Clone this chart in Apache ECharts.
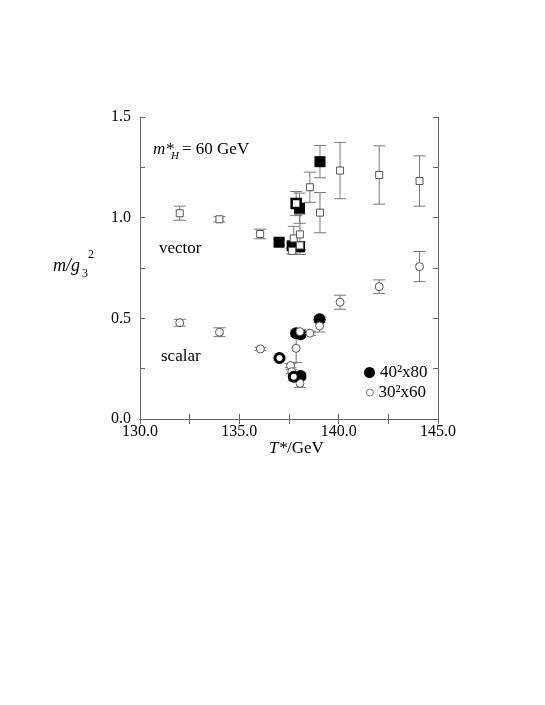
<!DOCTYPE html>
<html>
<head>
<meta charset="utf-8">
<script src="https://cdn.jsdelivr.net/npm/echarts@6/dist/echarts.min.js"></script>
<style>
  html, body { margin: 0; padding: 0; background: #fff; }
  #main { width: 545px; height: 705px; }
</style>
</head>
<body>
<div id="main"></div>
<script>
// axis ticks
var xTicks = [130, 135, 140, 145];
var yTicks = [0, 0.5, 1.0, 1.5];

// vector channel, 40^2x80 (filled squares)
var vecT40 = [137.0, 137.66, 138.03, 138.03, 139.06];
var vecM40 = [0.878, 0.860, 0.855, 1.047, 1.278];
var vecE40 = [0.015, 0.015, 0.015, 0.075, 0.080];

// vector channel, 30^2x60 (open squares)
var vecT30 = [132.0, 134.0, 136.05, 137.66, 137.74, 138.05, 138.05, 138.55, 139.06, 140.07, 142.04, 144.07];
var vecM30 = [1.022, 0.992, 0.919, 0.835, 0.897, 0.917, 0.862, 1.151, 1.025, 1.234, 1.212, 1.182];
var vecE30 = [0.035, 0.013, 0.024, 0.015, 0.060, 0.100, 0.020, 0.075, 0.100, 0.140, 0.145, 0.125];

// vector channel, bold open square
var vecTB = [137.86];
var vecMB = [1.070];
var vecEB = [0.060];

// scalar channel, 40^2x80 (filled circles)
var scaT40 = [137.86, 138.08, 138.08, 139.04];
var scaM40 = [0.426, 0.421, 0.214, 0.495];
var scaE40 = [0.015, 0.015, 0.015, 0.015];

// scalar channel, 30^2x60 (open circles)
var scaT30 = [132.0, 134.0, 136.06, 137.58, 137.64, 137.86, 138.05, 138.05, 138.55, 139.04, 140.07, 142.04, 144.07];
var scaM30 = [0.478, 0.431, 0.348, 0.265, 0.235, 0.351, 0.434, 0.177, 0.426, 0.462, 0.580, 0.657, 0.757];
var scaE30 = [0.017, 0.022, 0.008, 0.010, 0.010, 0.070, 0.010, 0.020, 0.010, 0.030, 0.035, 0.034, 0.075];

// scalar channel, bold open circles
var scaTB = [137.02, 137.74];
var scaMB = [0.303, 0.210];
var scaEB = [0.010, 0.020];

function pts(t, m) {
    return t.map(function (v, i) { return [v, m[i]]; });
}
function errs(t, m, e) {
    return t.map(function (v, i) { return [v, m[i], e[i]]; });
}

var allErr = [].concat(
    errs(vecT40, vecM40, vecE40), errs(vecT30, vecM30, vecE30), errs(vecTB, vecMB, vecEB),
    errs(scaT40, scaM40, scaE40), errs(scaT30, scaM30, scaE30), errs(scaTB, scaMB, scaEB)
);

var serif = 'Liberation Serif';
var axisCol = '#666';
var barCol = '#777';

function fmtX(v) {
    return xTicks.indexOf(v) >= 0 ? v.toFixed(1) : '';
}
function fmtY(v) {
    for (var i = 0; i < yTicks.length; i++) {
        if (Math.abs(yTicks[i] - v) < 1e-6) return yTicks[i].toFixed(1);
    }
    return '';
}

var chart = echarts.init(document.getElementById('main'));

var legendText = { fontFamily: serif, fontSize: 17, color: '#000' };

var option = {
    animation: false,
    backgroundColor: '#fff',
    grid: { left: 140, top: 117, right: 107, bottom: 286 },
    legend: [{
        left: 359,
        top: 359,
        itemWidth: 11,
        itemHeight: 11,
        itemGap: 4,
        textStyle: legendText,
        data: [{ name: '40²x80', icon: 'circle' }]
    }, {
        left: 361,
        top: 379,
        itemWidth: 7,
        itemHeight: 7,
        itemGap: 4,
        textStyle: legendText,
        data: [{ name: '30²x60', icon: 'circle', itemStyle: { borderWidth: 0.8 } }]
    }],
    xAxis: [{
        type: 'value', min: 130, max: 145, interval: 2.5,
        axisLine: { lineStyle: { color: axisCol, width: 1 } },
        axisTick: { inside: true, length: 5, lineStyle: { color: axisCol } },
        axisLabel: { formatter: fmtX, fontFamily: serif, fontSize: 16, color: '#000', margin: 5 },
        splitLine: { show: false }
    }, {
        type: 'value', min: 130, max: 145, interval: 2.5, position: 'top',
        axisLine: { lineStyle: { color: axisCol, width: 1 } },
        axisTick: { inside: true, length: 5, lineStyle: { color: axisCol } },
        axisLabel: { show: false },
        splitLine: { show: false }
    }],
    yAxis: [{
        type: 'value', min: 0, max: 1.5, interval: 0.25,
        axisLine: { show: true, lineStyle: { color: axisCol, width: 1 } },
        axisTick: { show: true, inside: true, length: 5, lineStyle: { color: axisCol } },
        axisLabel: { formatter: fmtY, fontFamily: serif, fontSize: 16, color: '#000', margin: 9 },
        splitLine: { show: false }
    }, {
        type: 'value', min: 0, max: 1.5, interval: 0.25, position: 'right',
        axisLine: { show: true, lineStyle: { color: axisCol, width: 1 } },
        axisTick: { show: true, inside: true, length: 5, lineStyle: { color: axisCol } },
        axisLabel: { show: false },
        splitLine: { show: false }
    }],
    series: [
        {
            name: 'errors',
            type: 'custom',
            z: 1,
            silent: true,
            data: allErr,
            encode: { x: 0, y: 1 },
            renderItem: function (params, api) {
                var x = api.value(0), y = api.value(1), e = api.value(2);
                var top = api.coord([x, y + e]);
                var bot = api.coord([x, y - e]);
                var hw = 6;
                var st = { stroke: barCol, lineWidth: 1 };
                return {
                    type: 'group',
                    children: [
                        { type: 'line', shape: { x1: top[0], y1: top[1], x2: bot[0], y2: bot[1] }, style: st },
                        { type: 'line', shape: { x1: top[0] - hw, y1: top[1], x2: top[0] + hw, y2: top[1] }, style: st },
                        { type: 'line', shape: { x1: bot[0] - hw, y1: bot[1], x2: bot[0] + hw, y2: bot[1] }, style: st }
                    ]
                };
            }
        },
        {
            name: '40²x80', type: 'scatter', z: 2,
            symbol: 'rect', symbolSize: 11,
            itemStyle: { color: '#000', opacity: 1 },
            data: pts(vecT40, vecM40)
        },
        {
            name: '40²x80', type: 'scatter', z: 2,
            symbol: 'circle', symbolSize: 12,
            itemStyle: { color: '#000', opacity: 1 },
            data: pts(scaT40, scaM40)
        },
        {
            name: '30²x60', type: 'scatter', z: 3,
            symbol: 'circle', symbolSize: 8,
            itemStyle: { color: '#fff', borderColor: '#555', borderWidth: 1, opacity: 1 },
            data: pts(scaT30, scaM30)
        },
        {
            name: '30²x60', type: 'scatter', z: 3,
            symbol: 'rect', symbolSize: 7,
            itemStyle: { color: '#fff', borderColor: '#555', borderWidth: 1, opacity: 1 },
            data: pts(vecT30, vecM30)
        },
        {
            name: 'bold', type: 'scatter', z: 4,
            symbol: 'rect', symbolSize: 9,
            itemStyle: { color: '#fff', borderColor: '#000', borderWidth: 2.5, opacity: 1 },
            data: pts(vecTB, vecMB)
        },
        {
            name: 'bold', type: 'scatter', z: 4,
            symbol: 'circle', symbolSize: 9,
            itemStyle: { color: '#fff', borderColor: '#000', borderWidth: 3, opacity: 1 },
            data: pts(scaTB, scaMB)
        }
    ],
    graphic: [
        // annotation m*_H = 60 GeV
        { type: 'text', left: 153, top: 141, style: { text: 'm*', font: 'italic 17px "Liberation Serif"', fill: '#000' } },
        { type: 'text', left: 171, top: 151, style: { text: 'H', font: 'italic 11px "Liberation Serif"', fill: '#000' } },
        { type: 'text', left: 182, top: 141, style: { text: '= 60 GeV', font: '17px "Liberation Serif"', fill: '#000' } },
        // channel labels
        { type: 'text', left: 159, top: 240, style: { text: 'vector', font: '17px "Liberation Serif"', fill: '#000' } },
        { type: 'text', left: 161, top: 348, style: { text: 'scalar', font: '17px "Liberation Serif"', fill: '#000' } },
        // y axis name m/g_3^2
        { type: 'text', left: 53, top: 257, style: { text: 'm/g', font: 'italic 18px "Liberation Serif"', fill: '#000' } },
        { type: 'text', left: 82, top: 268, style: { text: '3', font: '12px "Liberation Serif"', fill: '#000' } },
        { type: 'text', left: 88, top: 249, style: { text: '2', font: '12px "Liberation Serif"', fill: '#000' } },
        // x axis name T*/GeV
        { type: 'text', left: 269, top: 440, style: { text: 'T*', font: 'italic 17px "Liberation Serif"', fill: '#000' } },
        { type: 'text', left: 287, top: 440, style: { text: '/GeV', font: '17px "Liberation Serif"', fill: '#000' } }
    ]
};

chart.setOption(option);
</script>
</body>
</html>
